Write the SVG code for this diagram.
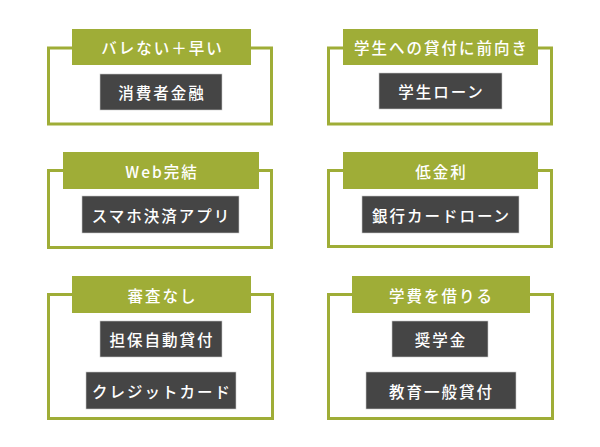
<svg xmlns="http://www.w3.org/2000/svg" width="600" height="447" viewBox="0 0 600 447">
<style>
.frame{fill:none;stroke:#9fad37;stroke-width:3}
.head{fill:#9fad37}
.item{fill:#454545;stroke:#c8c8c8;stroke-width:0.6}
text{font-family:"Noto Sans CJK JP","Noto Sans",sans-serif;font-size:15.5px;font-weight:500;fill:#ffffff;text-anchor:middle;dominant-baseline:central;letter-spacing:2px}
</style>
<rect width="600" height="447" fill="#ffffff"/>
<g id="node-bare">
<rect class="frame" x="48.5" y="48" width="223" height="76"/>
<rect class="head" x="72" y="29" width="179" height="36"/>
<text x="162.5" y="47">バレない＋早い</text>
<rect class="item" x="100" y="74" width="122" height="36"/>
<text x="162" y="92">消費者金融</text>
</g>
<g id="node-gakusei">
<rect class="frame" x="328.5" y="48" width="223" height="76"/>
<rect class="head" x="343" y="29" width="195" height="36"/>
<text x="441.5" y="47">学生への貸付に前向き</text>
<rect class="item" x="379" y="73" width="123" height="36"/>
<text x="441.5" y="91">学生ローン</text>
</g>
<g id="node-web">
<rect class="frame" x="48.5" y="170.5" width="223" height="77"/>
<rect class="head" x="63" y="152" width="196" height="37"/>
<text x="162" y="170.5">Web完結</text>
<rect class="item" x="82" y="196" width="157" height="37"/>
<text x="161.5" y="214.5">スマホ決済アプリ</text>
</g>
<g id="node-teikinri">
<rect class="frame" x="328.5" y="170.5" width="223" height="76"/>
<rect class="head" x="343" y="152" width="195" height="37"/>
<text x="441.5" y="170.5">低金利</text>
<rect class="item" x="362" y="196" width="157" height="37"/>
<text x="441.5" y="214.5">銀行カードローン</text>
</g>
<g id="node-shinsa">
<rect class="frame" x="48.5" y="294.5" width="224" height="124"/>
<rect class="head" x="72" y="276" width="179" height="37"/>
<text x="162.5" y="294.5">審査なし</text>
<rect class="item" x="100" y="321" width="122" height="36"/>
<text x="162" y="339">担保自動貸付</text>
<rect class="item" x="86" y="372" width="150" height="37"/>
<text x="162" y="390.5">クレジットカード</text>
</g>
<g id="node-gakuhi">
<rect class="frame" x="328.5" y="294.5" width="224" height="124"/>
<rect class="head" x="352" y="276" width="178" height="37"/>
<text x="441.5" y="294.5">学費を借りる</text>
<rect class="item" x="392" y="321" width="96" height="36"/>
<text x="441" y="339">奨学金</text>
<rect class="item" x="366" y="372" width="150" height="37"/>
<text x="441.5" y="390.5">教育一般貸付</text>
</g>
<g id="connectors"></g>
</svg>
